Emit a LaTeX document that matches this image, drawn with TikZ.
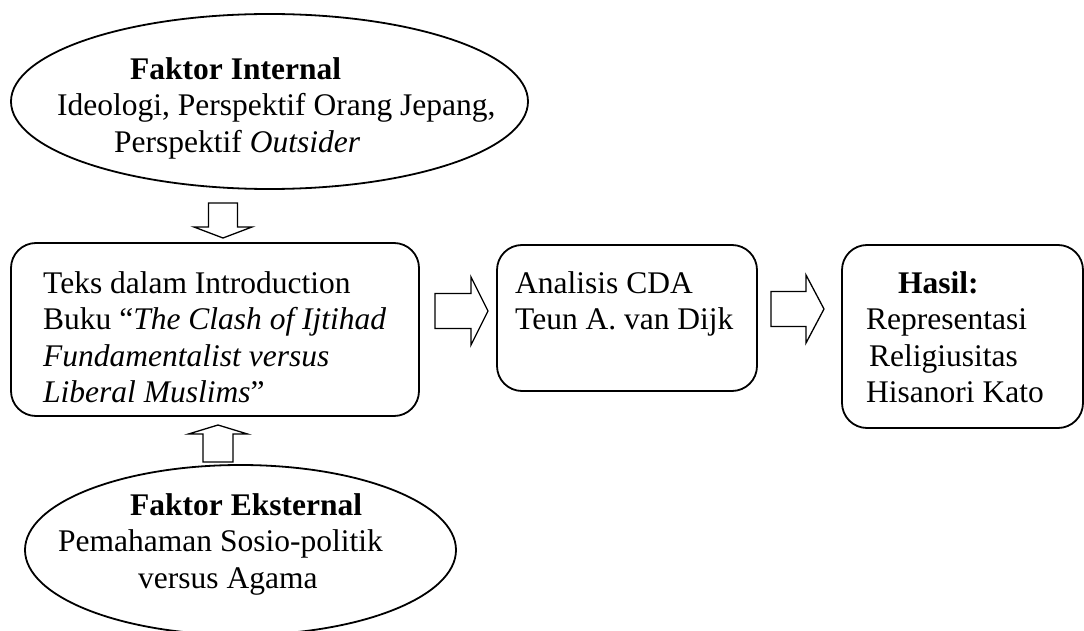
\documentclass[tikz,border=0pt]{standalone}
\usepackage{fontspec}
\setmainfont{Liberation Serif}
\usetikzlibrary{shapes.geometric}

\begin{document}
\begin{tikzpicture}[x=1pt, y=-1pt,
    factor/.style={ellipse, draw, line width=1.8pt, inner sep=0pt},
    box/.style={rectangle, rounded corners=25pt, draw, line width=1.8pt, inner sep=0pt},
    txt/.style={anchor=north west, inner sep=0pt, align=left, font=\fontsize{31.5}{36.5}\selectfont},
    blockarr/.style={draw, line width=1.3pt, line join=miter}]
      \useasboundingbox (0,0) rectangle (1084,631);

      % factors
      \node[factor, minimum width=517pt, minimum height=175pt] (internal) at (269.5,101.5) {};
      \node[txt] (internalT) at (57,53.45) {\hspace*{73pt}\strut\textbf{Faktor Internal}\\
        Ideologi, Perspektif Orang Jepang,\\
        \hspace*{57pt}Perspektif \textit{Outsider}};

      \node[factor, minimum width=431pt, minimum height=170pt] (eksternal) at (240.5,550) {};
      \node[txt] (eksternalT) at (58,489.45) {\hspace*{72pt}\strut\textbf{Faktor Eksternal}\\
        Pemahaman Sosio-politik\\
        \hspace*{80pt}versus Agama};

      % boxes
      \node[box, minimum width=408pt, minimum height=173pt] (teks) at (215,329.5) {};
      \node[txt] (teksT) at (43,267.45) {\strut Teks dalam Introduction\\
        Buku “\textit{The Clash of Ijtihad}\\
        \textit{Fundamentalist versus}\\
        \textit{Liberal Muslims}”};

      \node[box, minimum width=260pt, minimum height=146pt] (analisis) at (627,318) {};
      \node[txt] (analisisT) at (515,267.45) {\strut Analisis CDA\\
        Teun A. van Dijk};

      \node[box, minimum width=241pt, minimum height=183pt] (hasil) at (962.5,336.5) {};
      \node[txt] (hasilT) at (866,267.45) {\hspace*{32pt}\strut\textbf{Hasil:}\\
        Representasi\\
        \hspace*{3pt}Religiusitas\\
        Hisanori Kato};

      % block arrows
      \draw[blockarr] (208.5,203) -- (237.5,203) -- (237.5,227) -- (252,227) -- (223,238) -- (194,227) -- (208.5,227) -- cycle;
      \draw[blockarr] (203,462) -- (233,462) -- (233,434) -- (247.5,434) -- (218,425) -- (188.5,434) -- (203,434) -- cycle;
      \draw[blockarr] (435,293.5) -- (471,293.5) -- (471,277) -- (488,311) -- (471,345) -- (471,328.5) -- (435,328.5) -- cycle;
      \draw[blockarr] (771,291.5) -- (806,291.5) -- (806,275) -- (824,309) -- (806,343) -- (806,326.5) -- (771,326.5) -- cycle;
\end{tikzpicture}
\end{document}
